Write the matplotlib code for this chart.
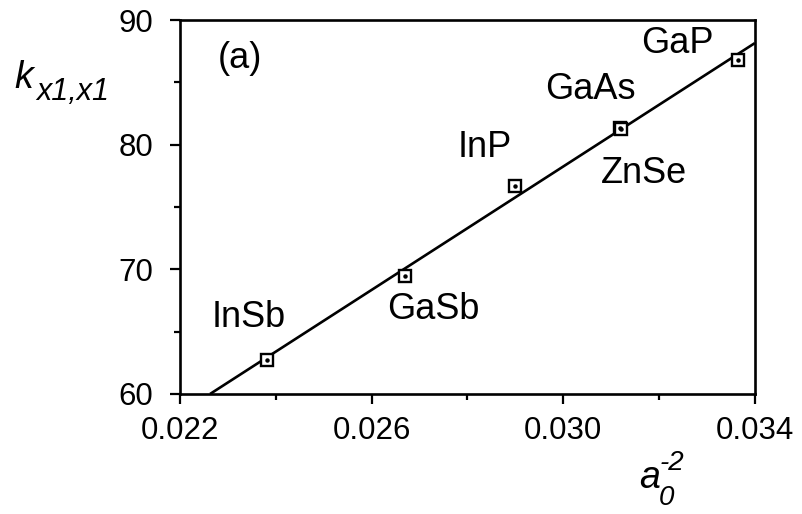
import matplotlib
matplotlib.use('Agg')
import matplotlib.pyplot as plt
from matplotlib.ticker import MultipleLocator

# data
names = ['InSb', 'GaSb', 'InP', 'GaAs', 'ZnSe', 'GaP']
a0_inv2 = [0.02382, 0.02670, 0.02899, 0.03119, 0.03121, 0.03365]
k_vals = [62.7, 69.5, 76.7, 81.35, 81.25, 86.8]

# fitted line end points
fit_x = [0.02263, 0.0340]
fit_y = [60.0, 88.15]

# where each compound name sits (data coords)
label_x = [0.02344, 0.02730, 0.02837, 0.03056, 0.03168, 0.03239]
label_y = [66.1, 66.8, 79.8, 84.4, 77.7, 88.15]

plt.rcParams['font.family'] = ['Liberation Sans', 'DejaVu Sans']

fig = plt.figure(figsize=(8.03, 5.14), dpi=100)
ax = fig.add_axes([0.224, 0.2335, 0.716, 0.7275])

ax.plot(fit_x, fit_y, color='black', lw=1.9, solid_capstyle='butt')
ax.plot(a0_inv2, k_vals, ls='none', marker='s', ms=8.5, mfc='white',
        mec='black', mew=1.7)
ax.plot(a0_inv2, k_vals, ls='none', marker='o', ms=2.2, mfc='black', mec='black')

for n, x, y in zip(names, label_x, label_y):
    ax.text(x, y, n, fontsize=26, ha='center', va='center')

ax.text(0.0228, 86.9, '(a)', fontsize=26, ha='left', va='center')

ax.set_xlim(0.022, 0.034)
ax.set_ylim(60, 90)
ax.xaxis.set_minor_locator(MultipleLocator(0.002))
ax.yaxis.set_major_locator(MultipleLocator(10))
ax.yaxis.set_minor_locator(MultipleLocator(5))
ax.set_xticks([0.022, 0.026, 0.030, 0.034])
ax.set_xticklabels(['0.022', '0.026', '0.030', '0.034'])

ax.tick_params(which='both', direction='out', width=1.6, labelsize=22.5)
ax.tick_params(which='major', length=7)
ax.tick_params(which='minor', length=4.5)
ax.tick_params(axis='x', pad=9)
ax.tick_params(axis='y', pad=12)
for s in ax.spines.values():
    s.set_linewidth(1.9)

# axis labels built from pieces
fig.text(14 / 803, 1 - 88 / 514, 'k', fontsize=27, style='italic', ha='left', va='baseline')
fig.text(36 / 803, 1 - 100 / 514, 'x1,x1', fontsize=22, style='italic', ha='left', va='baseline')
fig.text(639 / 803, 1 - 488 / 514, 'a', fontsize=27, style='italic', ha='left', va='baseline')
fig.text(660 / 803, 1 - 470 / 514, '-2', fontsize=20, style='italic', ha='left', va='baseline')
fig.text(659 / 803, 1 - 505 / 514, '0', fontsize=20, style='italic', ha='left', va='baseline')

fig.savefig('out.png', dpi=100)
